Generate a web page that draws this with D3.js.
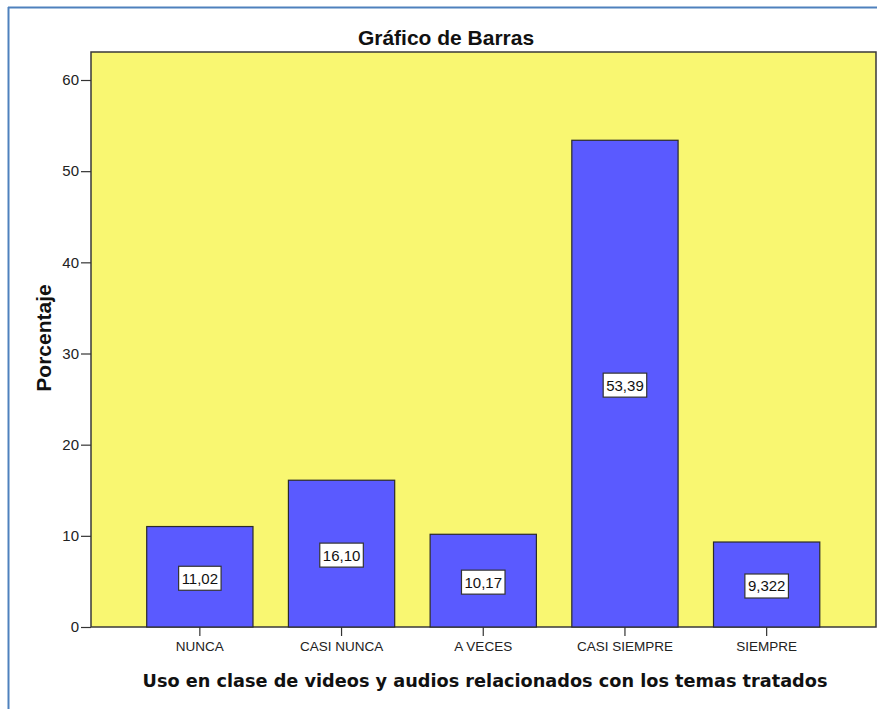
<!DOCTYPE html>
<html>
<head>
<meta charset="utf-8">
<script src="https://cdn.jsdelivr.net/npm/d3@7"></script>
<style>
  body { margin: 0; background: #ffffff; }
  svg { display: block; }
</style>
</head>
<body>
<svg id="svg"></svg>
<script>
const categories = ['NUNCA', 'CASI NUNCA', 'A VECES', 'CASI SIEMPRE', 'SIEMPRE']
const values = [11.02, 16.10, 10.17, 53.39, 9.322]
const valueLabels = ['11,02', '16,10', '10,17', '53,39', '9,322']
const yTicks = [0, 10, 20, 30, 40, 50, 60]

const width = 877
const height = 709

const svg = d3.select('#svg')
  .attr('width', width)
  .attr('height', height)

// outer frame (blue line at left/top)
svg.append('line')
  .attr('x1', 8.5).attr('y1', 7).attr('x2', 8.5).attr('y2', height)
  .attr('stroke', '#4f81bd').attr('stroke-width', 2)
svg.append('line')
  .attr('x1', 8).attr('y1', 7.5).attr('x2', width).attr('y2', 7.5)
  .attr('stroke', '#4f81bd').attr('stroke-width', 2)

const plot = { left: 91, top: 52, right: 876, bottom: 627 }

const yScale = d3.scaleLinear()
  .domain([0, 60])
  .range([plot.bottom, 80])

const xScale = d3.scaleBand()
  .domain(categories)
  .range([129, 837.5])
  .paddingInner(0.25)
  .paddingOuter(0.125)

// plot background
svg.append('rect')
  .attr('x', plot.left)
  .attr('y', plot.top)
  .attr('width', plot.right - plot.left)
  .attr('height', plot.bottom - plot.top)
  .attr('fill', '#f9f771')
  .attr('stroke', '#3a3a3a')
  .attr('stroke-width', 1.5)

// bars
svg.append('g')
  .selectAll('rect')
  .data(values)
  .enter()
  .append('rect')
  .attr('x', (d, i) => xScale(categories[i]))
  .attr('y', d => yScale(d))
  .attr('width', xScale.bandwidth())
  .attr('height', d => plot.bottom - yScale(d))
  .attr('fill', '#5a5aff')
  .attr('stroke', '#2a2a2a')
  .attr('stroke-width', 1.2)

// value labels
const labelGrp = svg.append('g')
values.forEach((d, i) => {
  const cx = xScale(categories[i]) + xScale.bandwidth() / 2
  const cy = (yScale(d) + yScale(0)) / 2 + 1.5
  const g = labelGrp.append('g').attr('transform', 'translate(' + cx + ',' + cy + ')')
  const txt = g.append('text')
    .attr('text-anchor', 'middle')
    .attr('dy', '0.36em')
    .style('font-family', 'Liberation Sans, Arial, sans-serif')
    .style('font-size', '15px')
    .attr('fill', '#111')
    .text(valueLabels[i])
  const w = txt.node().getComputedTextLength() + 6
  g.insert('rect', 'text')
    .attr('x', -w / 2)
    .attr('y', -12)
    .attr('width', w)
    .attr('height', 24)
    .attr('fill', '#ffffff')
    .attr('stroke', '#333')
    .attr('stroke-width', 1.2)
})

// y axis
const yAxis = svg.append('g')
  .attr('transform', 'translate(' + plot.left + ',0)')
  .call(d3.axisLeft(yScale).tickValues(yTicks).tickSize(10).tickPadding(2))
yAxis.select('.domain').remove()
yAxis.selectAll('line').attr('stroke', '#333').attr('stroke-width', 1.2)
yAxis.selectAll('text')
  .style('font-family', 'Liberation Sans, Arial, sans-serif')
  .style('font-size', '15px')
  .attr('fill', '#222')

// x axis
const xAxis = svg.append('g')
  .attr('transform', 'translate(0,' + plot.bottom + ')')
  .call(d3.axisBottom(xScale).tickSize(9).tickPadding(5))
xAxis.select('.domain').remove()
xAxis.selectAll('line').attr('stroke', '#333').attr('stroke-width', 1.2)
xAxis.selectAll('text')
  .style('font-family', 'Liberation Sans, Arial, sans-serif')
  .style('font-size', '13.5px')
  .attr('fill', '#222')

// title
svg.append('text')
  .attr('x', 446)
  .attr('y', 45)
  .attr('text-anchor', 'middle')
  .style('font-family', 'Liberation Sans, Arial, sans-serif')
  .style('font-weight', 'bold')
  .style('font-size', '21px')
  .attr('fill', '#111')
  .text('Gráfico de Barras')

// y label
svg.append('text')
  .attr('transform', 'translate(51,338) rotate(-90)')
  .attr('text-anchor', 'middle')
  .style('font-family', 'Liberation Sans, Arial, sans-serif')
  .style('font-weight', 'bold')
  .style('font-size', '21px')
  .attr('fill', '#111')
  .text('Porcentaje')

// x label
svg.append('text')
  .attr('x', 485)
  .attr('y', 687)
  .attr('text-anchor', 'middle')
  .style('font-family', 'DejaVu Sans, Verdana, sans-serif')
  .style('font-weight', 'bold')
  .style('font-size', '17.7px')
  .attr('fill', '#111')
  .text('Uso en clase de videos y audios relacionados con los temas tratados')
</script>
</body>
</html>
